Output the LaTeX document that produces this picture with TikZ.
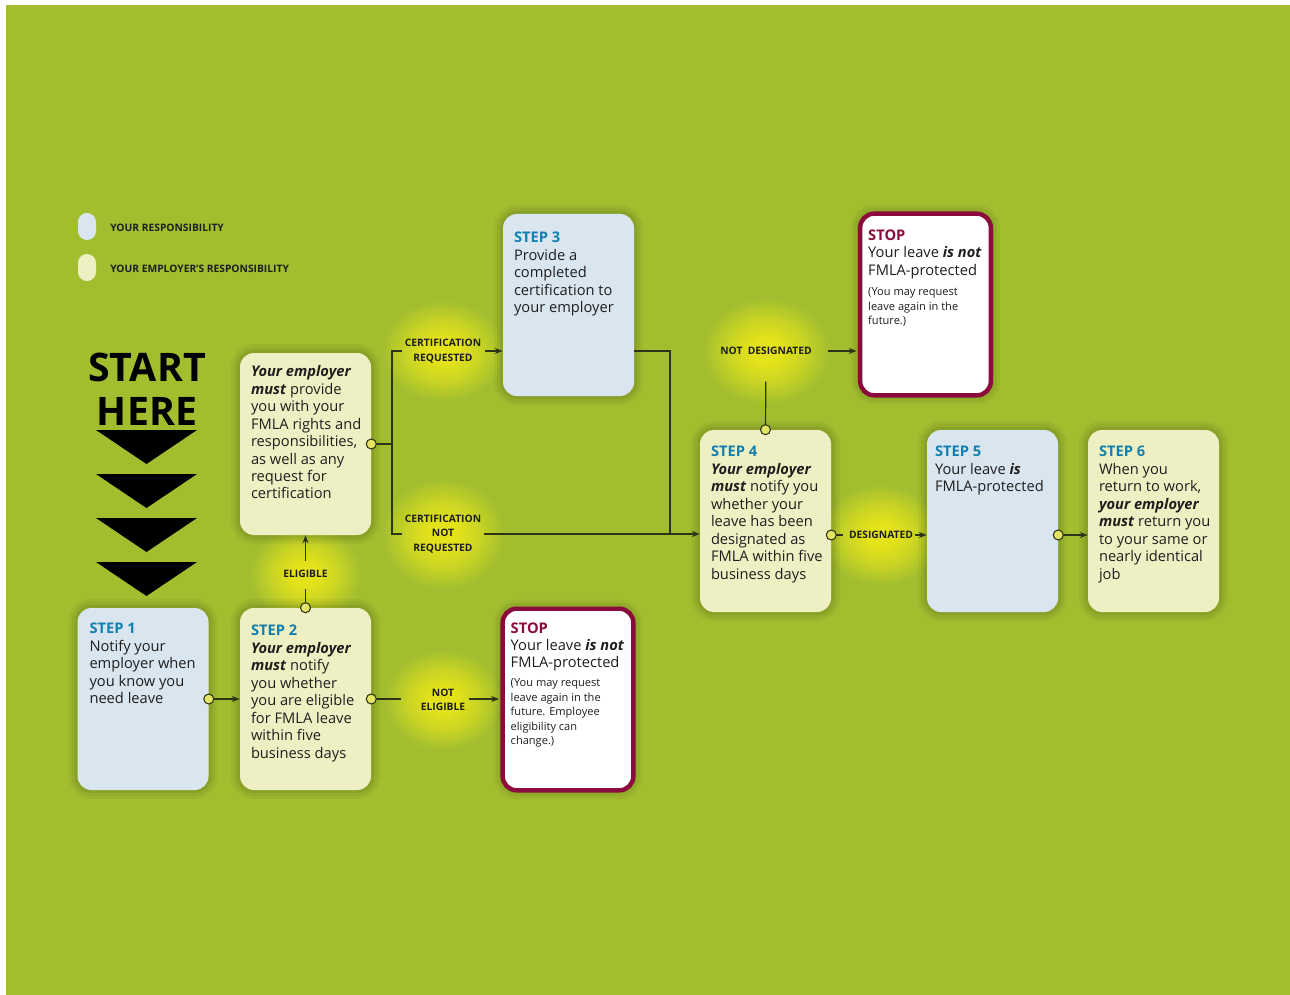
\documentclass[tikz,border=0pt]{standalone}
\usepackage{fontspec}
\setmainfont{Open Sans}
\usetikzlibrary{arrows.meta,calc}
\definecolor{bggreen}{HTML}{A2BE2F}
\definecolor{bluebox}{HTML}{D9E6F0}
\definecolor{creambox}{HTML}{EEF0C3}
\definecolor{stepc}{HTML}{127FAE}
\definecolor{stopc}{HTML}{8C0B3D}
\definecolor{glowc}{HTML}{E4E21A}
\definecolor{glowm}{HTML}{C9D424}
\definecolor{linec}{HTML}{2C3316}
\definecolor{dotc}{HTML}{E3E562}
\definecolor{txtc}{HTML}{1E1E1E}
\pgfdeclareradialshading{glow}{\pgfpoint{0bp}{0bp}}{color(0bp)=(glowc); color(6bp)=(glowc); color(15bp)=(glowm); color(25bp)=(bggreen); color(50bp)=(bggreen)}
\newcommand\bi[1]{\textbf{\textit{#1}}}
\newcommand\steplbl[1]{{\fontsize{11}{13.1}\selectfont\bfseries\color{stepc}#1}}
\newcommand\stoplbl[1]{{\fontsize{11}{13.1}\selectfont\bfseries\color{stopc}#1}}
\newcommand\tb[1]{\begin{tabular}[t]{@{}l@{}}#1\end{tabular}}
\begin{document}
\begin{tikzpicture}[x=0.75pt,y=-0.75pt,
  halo/.style={preaction={draw=black, draw opacity=0.04, line width=13.5pt},
               preaction={draw=black, draw opacity=0.05, line width=9pt},
               preaction={draw=black, draw opacity=0.06, line width=4.5pt}},
  box/.style={halo, rounded corners=10.5pt, minimum width=98.25pt, minimum height=136.5pt, inner sep=0pt},
  bluebox/.style={box, fill=bluebox},
  creambox/.style={box, fill=creambox},
  stopbox/.style={box, fill=white, draw=stopc, line width=3.3pt, minimum width=98pt, minimum height=136.2pt},
  boxtxt/.style={anchor=base west, inner sep=0pt, text=txtc, font=\fontsize{11}{13.1}\selectfont},
  smalltxt/.style={anchor=base west, inner sep=0pt, text=txtc, font=\fontsize{8.3}{10.9}\selectfont},
  lbl/.style={inner sep=0pt, align=center, text=txtc, font=\fontsize{7.7}{10.9}\selectfont\bfseries},
  legtxt/.style={anchor=west, inner sep=0pt, text=txtc, font=\fontsize{7.7}{8}\selectfont\bfseries},
  pill/.style={minimum width=13.5pt, minimum height=20.25pt, rounded corners=6.7pt, inner sep=0pt},
  dot/.style={circle, minimum size=7.5pt, inner sep=0pt, fill=dotc, draw=linec, line width=0.8pt},
  conn/.style={draw=linec, line width=0.9pt},
  arr/.style={conn, -{Stealth[length=6pt,width=4.5pt]}},
  bigtxt/.style={inner sep=0pt, text=black, font=\fontsize{29.5}{30}\selectfont\bfseries}
]
\useasboundingbox (0,0) rectangle (1290,995);
\fill[white] (0,0) rectangle (1290,995);
\fill[bggreen] (6,5) rectangle (1290,995);

% glows
\shade[shading=glow] (305.5,574) ellipse [x radius=42pt, y radius=36pt];
\shade[shading=glow] (443,700) ellipse [x radius=44pt, y radius=38pt];
\shade[shading=glow] (443,351) ellipse [x radius=46pt, y radius=38pt];
\shade[shading=glow] (443,534) ellipse [x radius=46pt, y radius=42pt];
\shade[shading=glow] (766,351) ellipse [x radius=48pt, y radius=40pt];
\shade[shading=glow] (881,535) ellipse [x radius=44pt, y radius=38pt];

% legend
\node[pill, fill=bluebox] (lg1) at (87,226.5) {};
\node[legtxt] (lt1) at (110,228) {YOUR RESPONSIBILITY};
\node[pill, fill=creambox] (lg2) at (87,267.5) {};
\node[legtxt] (lt2) at (110,269) {YOUR EMPLOYER’S RESPONSIBILITY};

% start here
\node[bigtxt] (start) at (147,367) {START};
\node[bigtxt] (here) at (147,411) {HERE};
\foreach \k in {0,1,2,3}{
  \fill[black] (96,430+44*\k) -- (197,430+44*\k) -- (146.5,464+44*\k) -- cycle;
}

% boxes
\node[bluebox] (s1) at (143,699) {};
\node[creambox] (s2) at (305.5,699) {};
\node[creambox] (emp) at (305.5,444) {};
\node[bluebox] (s3) at (568.5,305) {};
\node[stopbox] (stop1) at (925.5,304.5) {};
\node[creambox] (s4) at (765.5,521) {};
\node[bluebox] (s5) at (992.5,521) {};
\node[creambox] (s6) at (1153.5,521) {};
\node[stopbox] (stop2) at (568,699.5) {};

% box texts
\node[boxtxt] (t1) at ($(s1.north west)+(12,26)$) {\tb{\steplbl{STEP 1}\\Notify your\\employer when\\you know you\\need leave}};
\node[boxtxt] (t2) at ($(s2.north west)+(11,28)$) {\tb{\steplbl{STEP 2}\\\bi{Your employer}\\\bi{must} notify\\you whether\\you are eligible\\for FMLA leave\\within five\\business days}};
\node[boxtxt] (te) at ($(emp.north west)+(11,24)$) {\tb{\bi{Your employer}\\\bi{must} provide\\you with your\\FMLA rights and\\responsibilities,\\as well as any\\request for\\certification}};
\node[boxtxt] (t3) at ($(s3.north west)+(11,29)$) {\tb{\steplbl{STEP 3}\\Provide a\\completed\\certification to\\your employer}};
\node[boxtxt] (t4) at ($(s4.north west)+(11,27)$) {\tb{\steplbl{STEP 4}\\\bi{Your employer}\\\bi{must} notify you\\whether your\\leave has been\\designated as\\FMLA within five\\business days}};
\node[boxtxt] (t5) at ($(s5.north west)+(8,27)$) {\tb{\steplbl{STEP 5}\\Your leave \bi{is}\\FMLA-protected}};
\node[boxtxt] (t6) at ($(s6.north west)+(11,27)$) {\tb{\steplbl{STEP 6}\\When you\\return to work,\\\bi{your employer}\\\bi{must} return you\\to your same or\\nearly identical\\job}};
\node[boxtxt] (tp1) at ($(stop1.north west)+(10,29)$) {\tb{\stoplbl{STOP}\\Your leave \bi{is not}\\FMLA-protected}};
\node[smalltxt] (sp1) at ($(stop1.north west)+(10,84)$) {\tb{(You may request\\leave again in the\\future.)}};
\node[boxtxt] (tp2) at ($(stop2.north west)+(10,26.5)$) {\tb{\stoplbl{STOP}\\Your leave \bi{is not}\\FMLA-protected}};
\node[smalltxt] (sp2) at ($(stop2.north west)+(10,80)$) {\tb{(You may request\\leave again in the\\future. Employee\\eligibility can\\change.)}};

% labels
\node[lbl] (el) at (305.5,574) {ELIGIBLE};
\node[lbl] (ne) at (443,700) {NOT\\ELIGIBLE};
\node[lbl] (cr) at (443,351) {CERTIFICATION\\REQUESTED};
\node[lbl] (cnr) at (443,534) {CERTIFICATION\\NOT\\REQUESTED};
\node[lbl] (nd) at (766,351) {NOT\hspace{2pt} DESIGNATED};
\node[lbl] (ds) at (881,535) {DESIGNATED};

% connector points
\coordinate (j1) at (392,444);
\coordinate (j2) at (670,534);

% connectors
\draw[arr] (s1.east) -- (s2.west);
\draw[conn, shorten >=15pt] (s2.east) -- (s2.east -| ne.west);
\draw[arr, shorten <=3pt, shorten >=1pt] (ne.east |- s2.east) -- (stop2.west |- s2.east);
\draw[conn, shorten >=8pt] (s2.north) -- (el.south);
\draw[arr, shorten <=7pt] (el.north) -- (emp.south);
\draw[conn] (emp.east) -- (j1);
\draw[conn, shorten >=2pt] (j1) |- (cr.west);
\draw[arr, shorten <=3pt] (cr.east) -- (cr.east -| s3.west);
\draw[conn, shorten >=2pt] (j1) |- (cnr.west);
\draw[arr, shorten <=2pt] (cnr.east) -- (cnr.east -| s4.west);
\draw[conn] (cr.east -| s3.east) -| (j2);
\draw[conn, shorten >=20pt] (s4.north) -- (nd.south);
\draw[arr, shorten <=12pt, shorten >=1pt] (nd.east) -- (nd.east -| stop1.west);
\coordinate (d4p) at ($(s4.east)+(0,14)$);
\coordinate (d5p) at ($(s5.east)+(0,14)$);
\draw[conn, shorten >=4pt] (d4p) -- (d4p -| ds.west);
\draw[arr, shorten <=1pt] (ds.east) -- (ds.east -| s5.west);
\draw[arr] (d5p) -- (d5p -| s6.west);

% dots
\node[dot] (d1) at (s1.east) {};
\node[dot] (d2) at (s2.east) {};
\node[dot] (d2t) at (s2.north) {};
\node[dot] (d3) at (emp.east) {};
\node[dot] (d4t) at (s4.north) {};
\node[dot] (d4r) at (d4p) {};
\node[dot] (d5) at (d5p) {};
\end{tikzpicture}
\end{document}
